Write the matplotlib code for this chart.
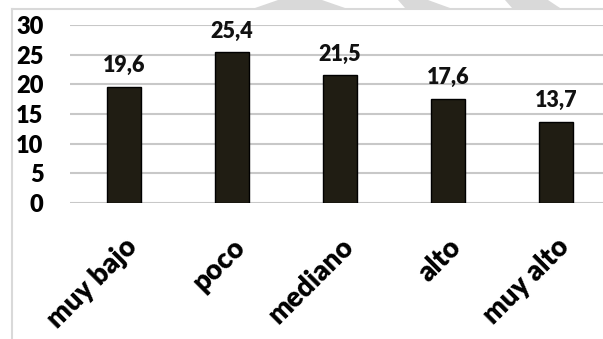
import matplotlib as mpl
import matplotlib.pyplot as plt
from matplotlib.patches import Polygon
from matplotlib.lines import Line2D

mpl.rcParams['font.family'] = ['Lato', 'DejaVu Sans']
mpl.rcParams['font.weight'] = 'heavy'

# datos
categorias = ['muy bajo', 'poco', 'mediano', 'alto', 'muy alto']
valores = [19.6, 25.4, 21.5, 17.6, 13.7]
etiquetas = ['19,6', '25,4', '21,5', '17,6', '13,7']
yticks = [0, 5, 10, 15, 20, 25, 30]

fig = plt.figure(figsize=(6.03, 3.39), dpi=100)
W, H = 603.0, 339.0

# marco y franjas grises de fondo (coordenadas en pixeles de la figura)
def px(x, y):
    return (x / W, 1 - y / H)

gris = '#d9d9d9'
for pts in [[(255, 8), (278, 0), (322, 0), (345, 8)],
            [(405, 8), (398, 0), (428, 0), (450, 8)],
            [(512, 8), (505, 0), (548, 0), (560, 8)]]:
    fig.patches.append(Polygon([px(*p) for p in pts], closed=True,
                               transform=fig.transFigure, facecolor=gris,
                               edgecolor='none', zorder=-5))
fig.lines.append(Line2D([12 / W, 1], [1 - 9 / H, 1 - 9 / H],
                        transform=fig.transFigure, color=gris, lw=1.5, zorder=-5))
fig.lines.append(Line2D([12 / W, 12 / W], [1 - 9 / H, 0],
                        transform=fig.transFigure, color=gris, lw=1.5, zorder=-5))

# el eje llega hasta el borde derecho de la figura
ax = fig.add_axes([70 / W, 1 - 203 / H, 533 / W, 178 / H])
x = list(range(len(categorias)))
xmax = -0.5 + 533 / 108.0

ax.set_xlim(-0.5, xmax)
ax.set_ylim(0, 30)

barras = ax.bar(x, valores, width=0.32, color='#201d13', edgecolor='black',
                linewidth=1, zorder=3)

for b, t in zip(barras, etiquetas):
    ax.annotate(t, (b.get_x() + b.get_width() / 2, b.get_height()),
                xytext=(0, 10.5), textcoords='offset points', ha='center',
                va='baseline', fontsize=15.5, fontweight='heavy', color='#111111')

ax.set_yticks(yticks)
ax.set_yticklabels([str(v) for v in yticks], fontsize=17, fontweight='heavy')
ax.tick_params(axis='y', length=0, pad=19)

# cuadricula horizontal
ax.set_axisbelow(True)
ax.grid(axis='y', color='#c8c8c8', linewidth=1.5)

ax.set_xticks(x)
ax.set_xticklabels(categorias, rotation=45, ha='right', va='top',
                   rotation_mode='anchor', fontsize=20, fontweight='heavy')
ax.tick_params(axis='x', length=0, pad=22)

for s in ['left', 'right', 'top', 'bottom']:
    ax.spines[s].set_visible(False)

fig.savefig('out.png', dpi=100)
